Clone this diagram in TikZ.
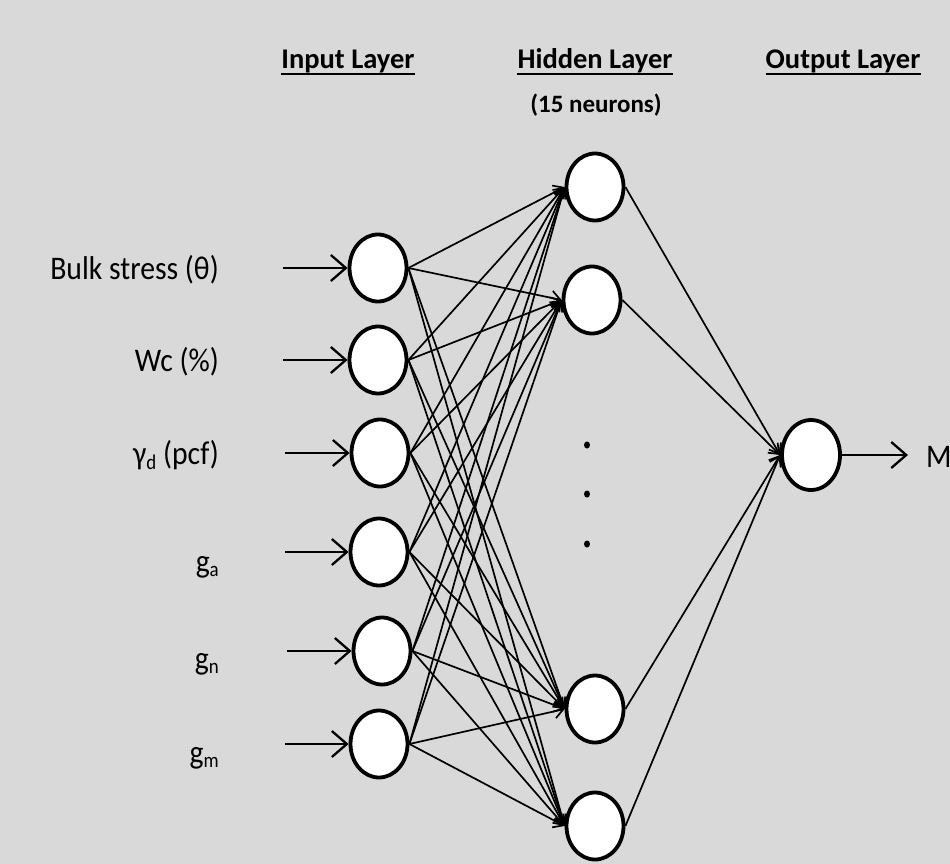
\documentclass[tikz,border=0pt]{standalone}
\usepackage{fontspec}
\setmainfont{Carlito}
\newfontfamily\labelfont{Carlito}[FakeStretch=0.9]
\usetikzlibrary{arrows.meta,shapes.geometric}
\definecolor{panel}{RGB}{217,217,217}
\newcommand{\lowsub}[1]{\raisebox{-0.3ex}{\fontsize{21}{21}\selectfont #1}}
\tikzset{
  neuron/.style={ellipse, draw, line width=3.8pt, fill=white,
    minimum width=57pt, minimum height=67pt, inner sep=0pt},
  link/.style={line width=1.7pt, -{Straight Barb[length=9pt,width=14pt]}},
  feed/.style={line width=2.3pt, -{Straight Barb[length=15pt,width=26pt]}},
  lbl/.style={font=\labelfont\fontsize{33}{38}\selectfont, inner sep=0pt},
  header/.style={font=\bfseries\fontsize{28.5}{33}\selectfont, inner sep=0pt, anchor=base},
  dotmark/.style={ellipse, fill=black, minimum width=6pt, minimum height=7pt, inner sep=0pt}
}
\begin{document}
\begin{tikzpicture}[x=1pt,y=-1pt]
  % background panel
  \fill[panel] (0,0) rectangle (950,864);
  \useasboundingbox (0,0) rectangle (950,864);

  % layer headings
  \node[header] (hin)  at (348,69) {Input Layer};
  \node[header] (hhid) at (595,69) {Hidden Layer};
  \node[header] (hout) at (843,69) {Output Layer};
  \foreach \h in {hin,hhid,hout}
    \draw[line width=2.3pt] ([yshift=-5pt]\h.base west) -- ([yshift=-5pt]\h.base east);
  \node[header, font=\bfseries\fontsize{25}{30}\selectfont] (hn) at (596,113) {(15 neurons)};

  % input layer
  \node[neuron] (i1) at (378,268) {};
  \node[neuron] (i2) at (378,360) {};
  \node[neuron] (i3) at (380,453) {};
  \node[neuron] (i4) at (379,552) {};
  \node[neuron] (i5) at (382,651) {};
  \node[neuron] (i6) at (379,744) {};

  % hidden layer (first two and last two of 15)
  \node[neuron] (h1) at (595,187) {};
  \node[neuron] (h2) at (592,300) {};
  \node[neuron] (h3) at (595,709) {};
  \node[neuron] (h4) at (595,826) {};
  \node[dotmark] (d1) at (587,445) {};
  \node[dotmark] (d2) at (587,494) {};
  \node[dotmark] (d3) at (587,544) {};

  % output layer
  \node[neuron, minimum width=58pt, minimum height=70pt] (o) at (811,455) {};

  % input labels
  \node[lbl, anchor=east] (l1) at (219,270) {Bulk stress (θ)};
  \node[lbl, anchor=east] (l2) at (219,362) {Wc (\%)};
  \node[lbl, anchor=east] (l3) at (219,455) {γ\lowsub{d} (pcf)};
  \node[lbl, anchor=base east] (l4) at (219,572) {g\lowsub{a}};
  \node[lbl, anchor=base east] (l5) at (219,669) {g\lowsub{n}};
  \node[lbl, anchor=base east] (l6) at (219,763) {g\lowsub{m}};

  % input arrows
  \coordinate (s1) at (283,268);
  \coordinate (s2) at (283,360);
  \coordinate (s3) at (285,453);
  \coordinate (s4) at (285,552);
  \coordinate (s5) at (287,651);
  \coordinate (s6) at (285,744);
  \foreach \k in {1,...,6}
    \draw[feed] (s\k) -- (i\k.west);

  % input -> hidden
  \foreach \k in {1,...,6}
    \foreach \h in {1,...,4}
      \draw[link] (i\k.east) -- (h\h.west);

  % hidden -> output
  \foreach \h in {1,...,4}
    \draw[link] (h\h.east) -- (o.west);

  % output arrow and label
  \coordinate (oe) at (908,455);
  \draw[feed] (o.east) -- (oe);
  \node[lbl, anchor=west] (mr) at (926,457) {M};
\end{tikzpicture}
\end{document}
